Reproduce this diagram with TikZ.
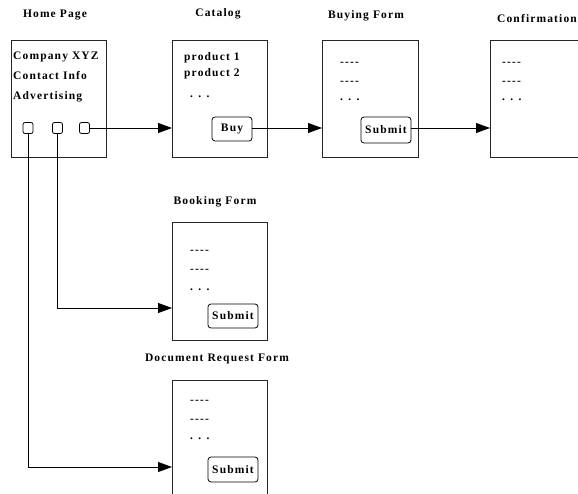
\documentclass[tikz,border=0pt]{standalone}
\usepackage{fontspec}
\setmainfont{Liberation Serif}[LetterSpace=10]
\usetikzlibrary{arrows.meta}
\tikzset{
  page/.style={draw=black!85, line width=0.9pt, minimum width=95pt, minimum height=117pt, inner sep=0pt, anchor=north west},
  btn/.style={draw, line width=0.8pt, rounded corners=3pt, inner sep=0pt, font=\fontsize{11.5}{13}\selectfont\bfseries},
  sq/.style={draw, line width=0.8pt, rounded corners=2pt, minimum width=10pt, minimum height=11pt, inner sep=0pt},
  ttl/.style={font=\fontsize{11.5}{13}\selectfont\bfseries, inner sep=0pt},
  txt/.style={font=\fontsize{11.5}{13}\selectfont\bfseries, inner sep=0pt, anchor=west},
  arr/.style={line width=0.8pt, -{Triangle[length=14pt,width=10pt]}}
}
\newcommand{\dsh}{-{}-{}-{}-}
\begin{document}
\begin{tikzpicture}[x=1pt,y=-1pt]
\useasboundingbox (0,0) rectangle (578,494);
\clip (0,0) rectangle (578,494);
% titles
\node[ttl] (t1) at (55,15) {Home Page};
\node[ttl] (t2) at (218,14) {Catalog};
\node[ttl] (t3) at (366,16) {Buying Form};
\node[ttl] (t4) at (537,19) {Confirmation};
\node[ttl] (t5) at (215,202) {Booking Form};
\node[ttl] (t6) at (217,359) {Document Request Form};
% pages
\node[page] (home) at (11,40) {};
\node[page] (cat) at (172,40) {};
\node[page, minimum width=96pt] (buyf) at (322,40) {};
\node[page, minimum width=100pt] (conf) at (490,40) {};
\node[page, minimum height=118pt] (book) at (172,222) {};
\node[page, minimum height=130pt] (doc) at (172,380) {};
% home contents
\node[txt] (h1) at (13,57) {Company XYZ};
\node[txt] (h2) at (13,76) {Contact Info};
\node[txt] (h3) at (13,97) {Advertising};
\node[sq] (s1) at (28,128) {};
\node[sq] (s2) at (57.5,128) {};
\node[sq] (s3) at (84.5,128) {};
% catalog contents
\node[txt] (c1) at (184,58) {product 1};
\node[txt] (c2) at (184,74) {product 2};
\node[txt] (c3) at (190,97) {. . .};
\node[btn, minimum width=40pt, minimum height=24pt] (buy) at (232,129) {Buy};
% buying form
\node[txt] (b1) at (340,64) {\dsh};
\node[txt] (b2) at (340,83) {\dsh};
\node[txt] (b3) at (340,100) {. . .};
\node[btn, minimum width=50pt, minimum height=26pt] (sub1) at (386,130) {Submit};
% confirmation
\node[txt] (f1) at (502,64) {\dsh};
\node[txt] (f2) at (502,83) {\dsh};
\node[txt] (f3) at (502,100) {. . .};
% booking
\node[txt] (k1) at (190,252) {\dsh};
\node[txt] (k2) at (190,271) {\dsh};
\node[txt] (k3) at (190,290) {. . .};
\node[btn, minimum width=50pt, minimum height=24pt] (sub2) at (233,316) {Submit};
% document request
\node[txt] (d1) at (190,402) {\dsh};
\node[txt] (d2) at (190,421) {\dsh};
\node[txt] (d3) at (190,439) {. . .};
\node[btn, minimum width=50pt, minimum height=25pt] (sub3) at (233,469.5) {Submit};
% connectors
\coordinate (bookin) at (172,308);
\coordinate (docin) at (172,467);
\draw[arr] (s3.east) -- (s3.east -| cat.west);
\draw[arr] (buy.east |- 0,128) -- (buyf.west |- 0,128);
\draw[arr] (sub1.east |- 0,128) -- (conf.west |- 0,128);
\draw[arr] (s2.south) |- (bookin);
\draw[arr] (s1.south) |- (docin);
\end{tikzpicture}
\end{document}
